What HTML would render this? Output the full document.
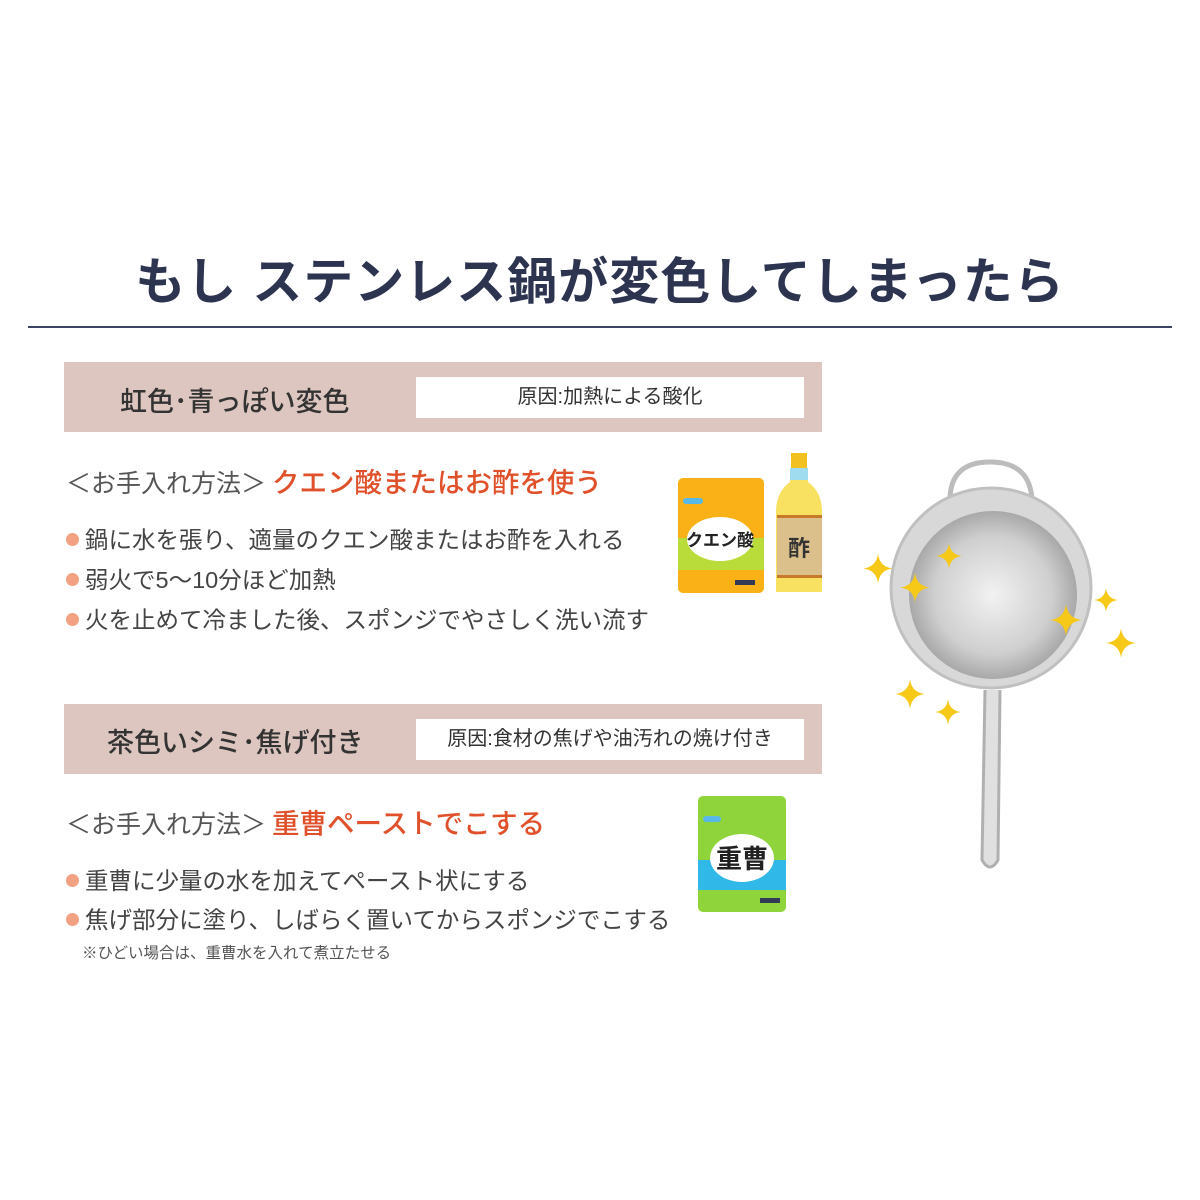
<!DOCTYPE html>
<html><head><meta charset="utf-8"><style>
body{margin:0;width:1200px;height:1200px;background:#fff;position:relative;overflow:hidden;font-family:"Liberation Sans","Noto Sans CJK JP",sans-serif;}
.a{position:absolute;white-space:nowrap;}
.title{left:0;width:1200px;text-align:center;top:242px;font-size:50px;font-weight:bold;color:#2d3450;letter-spacing:1px}
.hr{left:28px;top:326px;width:1144px;height:2px;background:#3d4363}
.box{left:64px;width:758px;height:70px;background:#dcc6bf}
.lab{font-size:27px;color:#333;font-weight:500}
.wb{left:416px;width:388px;height:41px;background:#fff;font-size:20px;color:#333;text-align:center;line-height:41px}
.m{font-size:25px;color:#555}
.m b{color:#e0512b;font-weight:500;font-size:27.5px;margin-left:6px}
.bl{font-size:23.5px;color:#444}
.bl:before{content:"";display:inline-block;width:13px;height:13px;border-radius:50%;background:#f2a283;margin-right:6px;vertical-align:2px}
</style></head><body>
<div class="a title">もし ステンレス鍋が変色してしまったら</div>
<div class="a hr"></div>

<div class="a box" style="top:362px"></div>
<div class="a lab" style="left:120px;top:380px">虹色･青っぽい変色</div>
<div class="a wb" style="top:377px">原因:加熱による酸化</div>
<div class="a m" style="left:66px;top:460px">＜お手入れ方法＞<b>クエン酸またはお酢を使う</b></div>
<div class="a bl" style="left:66px;top:521px">鍋に水を張り、適量のクエン酸またはお酢を入れる</div>
<div class="a bl" style="left:66px;top:561px">弱火で5～10分ほど加熱</div>
<div class="a bl" style="left:66px;top:601px">火を止めて冷ました後、スポンジでやさしく洗い流す</div>

<div class="a box" style="top:704px"></div>
<div class="a lab" style="left:107px;top:721px">茶色いシミ･焦げ付き</div>
<div class="a wb" style="top:719px">原因:食材の焦げや油汚れの焼け付き</div>
<div class="a m" style="left:66px;top:801px">＜お手入れ方法＞<b>重曹ペーストでこする</b></div>
<div class="a bl" style="left:66px;top:862px">重曹に少量の水を加えてペースト状にする</div>
<div class="a bl" style="left:66px;top:901px">焦げ部分に塗り、しばらく置いてからスポンジでこする</div>
<div class="a" style="left:82px;top:941px;font-size:15.5px;color:#555">※ひどい場合は、重曹水を入れて煮立たせる</div>

<svg class="a" style="left:0;top:0" width="1200" height="1200">
<defs>
<radialGradient id="pg" cx="50%" cy="50%" r="50%"><stop offset="0" stop-color="#f2f2f2"/><stop offset="0.7" stop-color="#cfcfcf"/><stop offset="1" stop-color="#a8a8a8"/></radialGradient>
<symbol id="st" viewBox="-10 -10 20 20"><path d="M0-10Q1-1 10 0Q1 1 0 10Q-1 1-10 0Q-1-1 0-10Z" fill="#f6c818"/></symbol>
</defs>
<rect x="678" y="478" width="86" height="115" rx="5" fill="#f9b117"/>
<rect x="678" y="538" width="86" height="32" fill="#b9dc3a"/>
<ellipse cx="720" cy="539" rx="33" ry="22" fill="#fff"/>
<text x="720" y="546" font-size="17" font-weight="bold" text-anchor="middle" fill="#222">クエン酸</text>
<rect x="735" y="580" width="20" height="5" fill="#333a55"/>
<rect x="683" y="498" width="20" height="6" rx="3" fill="#58b8e8"/>
<rect x="791" y="453" width="16" height="15" fill="#f2c020"/>
<path d="M790 468h18v14q14 10 14 30v80h-46v-80q0-20 14-30z" fill="#f8e060"/>
<rect x="790" y="468" width="18" height="12" fill="#9fdcef"/>
<rect x="777" y="515" width="45" height="60" fill="#dcc08c"/>
<rect x="777" y="515" width="45" height="3" fill="#c77a2a"/><rect x="777" y="575" width="45" height="3" fill="#c77a2a"/>
<text x="799" y="556" font-size="22" font-weight="bold" text-anchor="middle" fill="#333">酢</text>
<rect x="698" y="796" width="88" height="116" rx="5" fill="#8fd43a"/>
<rect x="698" y="860" width="88" height="30" fill="#30b8e8"/>
<ellipse cx="742" cy="858" rx="32" ry="24" fill="#fff"/>
<text x="742" y="868" font-size="26" font-weight="bold" text-anchor="middle" fill="#222">重曹</text>
<rect x="760" y="898" width="20" height="5" fill="#333a55"/>
<rect x="703" y="816" width="18" height="6" rx="3" fill="#58b8e8"/>
<path d="M950 500Q950 462 990 462Q1030 462 1032 500" fill="none" stroke="#bcbcbc" stroke-width="5"/>
<path d="M985 690L982 860Q990 874 998 860L1000 690" fill="#e0e0e0" stroke="#b0b0b0" stroke-width="3"/>
<circle cx="991" cy="588" r="100" fill="#d8d8d8" stroke="#c0c0c0" stroke-width="3"/>
<circle cx="993" cy="595" r="84" fill="url(#pg)"/>
<use href="#st" x="863" y="551" width="30" height="35"/>
<use href="#st" x="936" y="541" width="26" height="30"/>
<use href="#st" x="900" y="570" width="30" height="35"/>
<use href="#st" x="1050" y="600" width="32" height="40"/>
<use href="#st" x="1094" y="585" width="24" height="30"/>
<use href="#st" x="1106" y="627" width="30" height="32"/>
<use href="#st" x="895" y="677" width="30" height="34"/>
<use href="#st" x="935" y="697" width="26" height="30"/>
</svg>
</body></html>
